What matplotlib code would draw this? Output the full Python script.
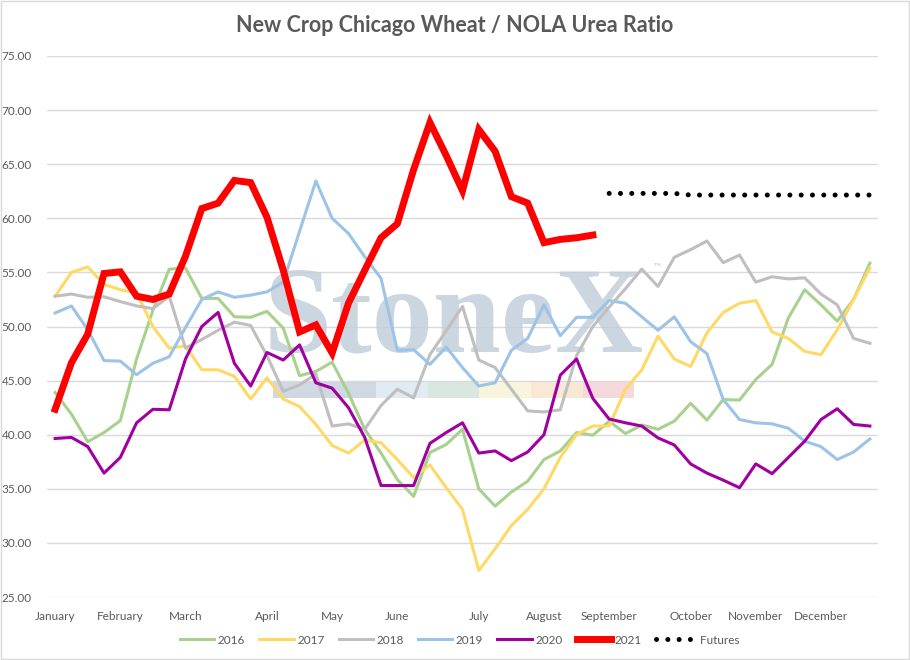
import numpy as np
import pandas as pd
import matplotlib
matplotlib.use("Agg")
import matplotlib.pyplot as plt
from matplotlib.patches import Rectangle

plt.rcParams['font.family'] = ['Lato', 'DejaVu Sans']

# weekly categories (51 weeks), month name shown on first week of each month
weeks = pd.date_range('2021-01-06', periods=51, freq='7D')

y2016 = [43.9, 41.9, 39.35, 40.2, 41.3, 47.0, 51.5, 55.3, 55.4, 52.6, 52.6, 50.9, 50.85,
         51.4, 49.85, 45.45, 45.85, 46.7, 43.85, 40.5, 38.3, 35.85, 34.3, 38.35, 39.1, 40.5,
         35.0, 33.4, 34.7, 35.7, 37.7, 38.5, 40.2, 39.95, 41.25, 40.1, 40.9, 40.5, 41.25,
         42.9, 41.35, 43.25, 43.2, 45.1, 46.5, 50.8, 53.4, 52.0, 50.5, 52.5, 55.85]
y2017 = [52.8, 55.0, 55.5, 53.9, 53.4, 53.1, 50.0, 48.0, 48.2, 46.0, 46.0, 45.4, 43.3,
         45.25, 43.3, 42.6, 40.95, 39.0, 38.3, 39.5, 39.25, 37.7, 36.05, 37.2, 35.1, 33.1,
         27.45, 29.45, 31.6, 33.1, 35.0, 37.9, 40.0, 40.8, 40.8, 44.2, 46.0, 49.1, 47.0,
         46.3, 49.4, 51.3, 52.15, 52.4, 49.5, 48.9, 47.7, 47.4, 49.7, 52.5, 55.4]
y2018 = [52.8, 53.0, 52.7, 52.75, 52.3, 51.9, 51.65, 52.8, 48.0, 48.8, 49.65, 50.4, 50.1,
         47.3, 44.0, 44.6, 45.6, 40.8, 41.0, 40.5, 42.7, 44.2, 43.4, 47.4, 49.6, 51.85,
         46.9, 46.2, 44.2, 42.2, 42.1, 42.3, 47.3, 50.0, 51.8, 53.5, 55.3, 53.7, 56.4,
         57.1, 57.9, 55.9, 56.6, 54.1, 54.6, 54.4, 54.5, 53.0, 52.0, 48.9, 48.45]
y2019 = [51.25, 51.9, 49.7, 46.85, 46.8, 45.55, 46.6, 47.2, 49.9, 52.5, 53.2, 52.7, 52.9,
         53.2, 54.1, 58.8, 63.45, 60.0, 58.6, 56.45, 54.45, 47.8, 47.85, 46.5, 48.1, 46.2,
         44.5, 44.8, 47.8, 48.9, 52.0, 49.15, 50.85, 50.85, 52.4, 52.15, 50.9, 49.65, 50.9,
         48.6, 47.5, 43.25, 41.4, 41.1, 41.0, 40.6, 39.4, 38.9, 37.7, 38.4, 39.6]
y2020 = [39.65, 39.75, 38.9, 36.45, 37.9, 41.1, 42.35, 42.3, 47.0, 50.0, 51.3, 46.6, 44.5,
         47.6, 46.9, 48.3, 44.8, 44.3, 42.5, 39.75, 35.3, 35.3, 35.3, 39.2, 40.2, 41.1,
         38.3, 38.5, 37.6, 38.4, 40.0, 45.5, 47.0, 43.35, 41.45, 41.1, 40.8, 39.7, 39.05,
         37.3, 36.45, 35.8, 35.1, 37.3, 36.4, 37.9, 39.4, 41.4, 42.4, 40.95, 40.8]
y2021 = [42.35, 46.65, 49.3, 54.9, 55.05, 52.8, 52.5, 53.0, 56.5, 60.9, 61.4, 63.5, 63.3,
         60.1, 55.2, 49.5, 50.15, 47.55, 52.15, 55.2, 58.2, 59.5, 64.5, 68.85, 65.8, 62.55,
         68.2, 66.2, 62.0, 61.4, 57.75, 58.05, 58.2, 58.45]
futures = [62.3, 62.3, 62.3, 62.3, 62.3, 62.15, 62.15, 62.15, 62.15, 62.15, 62.15, 62.15,
           62.15, 62.15, 62.15, 62.15, 62.15]

x = np.arange(len(weeks))
grey_txt = '#595959'

fig = plt.figure(figsize=(9.1, 6.6), dpi=100)
ax = fig.add_axes([47 / 910, 1 - 597 / 660, 831 / 910, 541 / 660])

ax.plot(x, y2016, color='#A9D18E', lw=2.2, label='2016', zorder=3)
ax.plot(x, y2017, color='#FFD966', lw=2.2, label='2017', zorder=3)
ax.plot(x, y2018, color='#BFBFBF', lw=2.2, label='2018', zorder=3)
ax.plot(x, y2019, color='#9DC3E6', lw=2.2, label='2019', zorder=3)
ax.plot(x, y2020, color='#A000A0', lw=2.2, label='2020', zorder=3)
ax.plot(x[:len(y2021)], y2021, color='#FF0000', lw=5, label='2021', zorder=4,
        solid_joinstyle='miter')
ax.plot(x[len(x) - len(futures):], futures, color='black', lw=3.6,
        linestyle=(0, (0.01, 2.25)), dash_capstyle='round', label='  Futures', zorder=4)

# watermark
ax.text(0.489, 0.453, 'StoneX', transform=ax.transAxes, ha='center', va='baseline',
        fontsize=88, family='Liberation Serif', fontweight='bold', color='#c4cfdb',
        alpha=0.85, zorder=1.5)
ax.text(0.735, 0.61, '™', transform=ax.transAxes, ha='center', va='center',
        fontsize=7, color='#c4cfdb', zorder=1.5)
strip = ['#c8d3de', '#c8d3de', '#dbe8f3', '#d3e3d9', '#f8f4d8', '#f9e4cc', '#f2d3d5']
for k, c in enumerate(strip):
    ax.add_patch(Rectangle((0.272 + k * 0.0621, 0.367), 0.0621, 0.031,
                           transform=ax.transAxes, color=c, lw=0, alpha=0.85, zorder=1.5))

ax.set_xlim(-0.5, len(x) - 0.5)
ax.set_ylim(25, 75)
ax.set_yticks(np.arange(25, 76, 5))
ax.set_yticklabels([f'{v:.2f}' for v in np.arange(25, 76, 5)])

month_idx = [i for i in range(len(weeks)) if i == 0 or weeks[i].month != weeks[i - 1].month]
ax.set_xticks(month_idx)
ax.set_xticklabels([weeks[i].strftime('%B') for i in month_idx])

ax.tick_params(axis='both', length=0, labelsize=8.5, colors=grey_txt)
ax.tick_params(axis='x', pad=10)
ax.tick_params(axis='y', pad=11)
ax.grid(axis='y', color='#d9d9d9', lw=1, zorder=0)
ax.set_axisbelow(True)
for s in ax.spines.values():
    s.set_visible(False)

fig.text(0.5, 1 - 25 / 660, 'New Crop Chicago Wheat / NOLA Urea Ratio', ha='center',
         va='center', fontsize=15.5, fontweight='bold', color=grey_txt)

fig.legend(loc='center', bbox_to_anchor=(0.505, 1 - 640 / 660), ncol=7, frameon=False,
           fontsize=8.5, handlelength=2.9, handletextpad=0.3, columnspacing=1.2,
           labelcolor=grey_txt)

fig.patches.append(Rectangle((0.0006, 0.0008), 0.9988, 0.9984, transform=fig.transFigure,
                             fill=False, edgecolor='#d9d9d9', lw=1))

fig.savefig('out.png', dpi=100)
